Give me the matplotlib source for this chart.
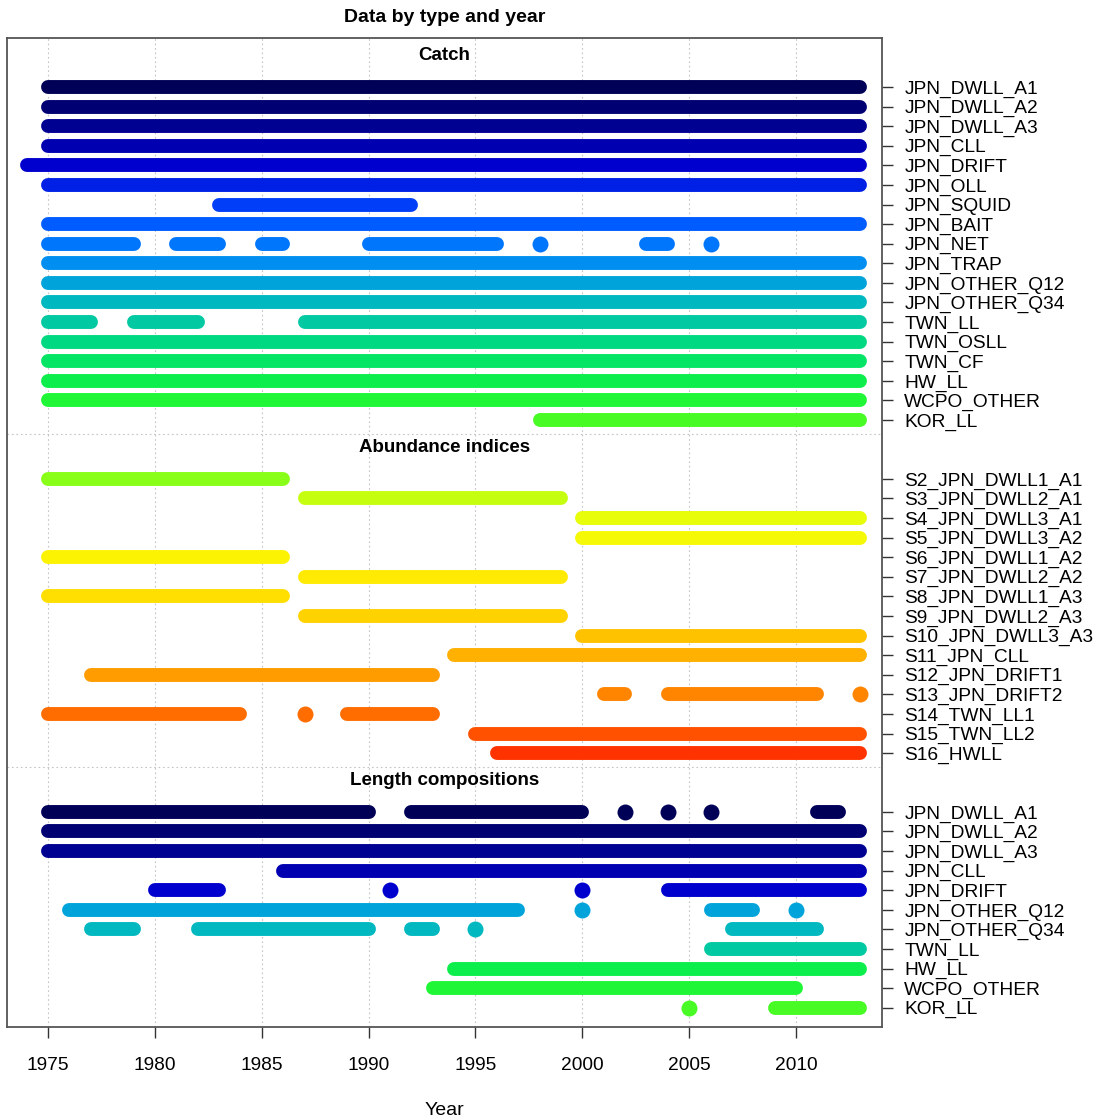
import numpy as np
import matplotlib
matplotlib.use("Agg")
import matplotlib.pyplot as plt

plt.rcParams["font.family"] = ["Liberation Sans", "DejaVu Sans"]

# fleets in model order
fleet_names = ["JPN_DWLL_A1", "JPN_DWLL_A2", "JPN_DWLL_A3", "JPN_CLL", "JPN_DRIFT",
               "JPN_OLL", "JPN_SQUID", "JPN_BAIT", "JPN_NET", "JPN_TRAP",
               "JPN_OTHER_Q12", "JPN_OTHER_Q34", "TWN_LL", "TWN_OSLL", "TWN_CF",
               "HW_LL", "WCPO_OTHER", "KOR_LL",
               "S2_JPN_DWLL1_A1", "S3_JPN_DWLL2_A1", "S4_JPN_DWLL3_A1",
               "S5_JPN_DWLL3_A2", "S6_JPN_DWLL1_A2", "S7_JPN_DWLL2_A2", "S8_JPN_DWLL1_A3",
               "S9_JPN_DWLL2_A3", "S10_JPN_DWLL3_A3", "S11_JPN_CLL", "S12_JPN_DRIFT1",
               "S13_JPN_DRIFT2", "S14_TWN_LL1", "S15_TWN_LL2", "S16_HWLL"]

# (fleet, [(first year, last year), ...]) -- single years drawn as points
catch = [
    ("JPN_DWLL_A1", [(1975, 2013)]),
    ("JPN_DWLL_A2", [(1975, 2013)]),
    ("JPN_DWLL_A3", [(1975, 2013)]),
    ("JPN_CLL", [(1975, 2013)]),
    ("JPN_DRIFT", [(1974, 2013)]),
    ("JPN_OLL", [(1975, 2013)]),
    ("JPN_SQUID", [(1983, 1992)]),
    ("JPN_BAIT", [(1975, 2013)]),
    ("JPN_NET", [(1975, 1979), (1981, 1983), (1985, 1986), (1990, 1996), (1998, 1998),
                 (2003, 2004), (2006, 2006)]),
    ("JPN_TRAP", [(1975, 2013)]),
    ("JPN_OTHER_Q12", [(1975, 2013)]),
    ("JPN_OTHER_Q34", [(1975, 2013)]),
    ("TWN_LL", [(1975, 1977), (1979, 1982), (1987, 2013)]),
    ("TWN_OSLL", [(1975, 2013)]),
    ("TWN_CF", [(1975, 2013)]),
    ("HW_LL", [(1975, 2013)]),
    ("WCPO_OTHER", [(1975, 2013)]),
    ("KOR_LL", [(1998, 2013)]),
]

indices = [
    ("S2_JPN_DWLL1_A1", [(1975, 1986)]),
    ("S3_JPN_DWLL2_A1", [(1987, 1999)]),
    ("S4_JPN_DWLL3_A1", [(2000, 2013)]),
    ("S5_JPN_DWLL3_A2", [(2000, 2013)]),
    ("S6_JPN_DWLL1_A2", [(1975, 1986)]),
    ("S7_JPN_DWLL2_A2", [(1987, 1999)]),
    ("S8_JPN_DWLL1_A3", [(1975, 1986)]),
    ("S9_JPN_DWLL2_A3", [(1987, 1999)]),
    ("S10_JPN_DWLL3_A3", [(2000, 2013)]),
    ("S11_JPN_CLL", [(1994, 2013)]),
    ("S12_JPN_DRIFT1", [(1977, 1993)]),
    ("S13_JPN_DRIFT2", [(2001, 2002), (2004, 2011), (2013, 2013)]),
    ("S14_TWN_LL1", [(1975, 1984), (1987, 1987), (1989, 1993)]),
    ("S15_TWN_LL2", [(1995, 2013)]),
    ("S16_HWLL", [(1996, 2013)]),
]

lencomp = [
    ("JPN_DWLL_A1", [(1975, 1990), (1992, 2000), (2002, 2002), (2004, 2004), (2006, 2006),
                     (2011, 2012)]),
    ("JPN_DWLL_A2", [(1975, 2013)]),
    ("JPN_DWLL_A3", [(1975, 2013)]),
    ("JPN_CLL", [(1986, 2013)]),
    ("JPN_DRIFT", [(1980, 1983), (1991, 1991), (2000, 2000), (2004, 2013)]),
    ("JPN_OTHER_Q12", [(1976, 1997), (2000, 2000), (2006, 2008), (2010, 2010)]),
    ("JPN_OTHER_Q34", [(1977, 1979), (1982, 1990), (1992, 1993), (1995, 1995), (2007, 2011)]),
    ("TWN_LL", [(2006, 2013)]),
    ("HW_LL", [(1994, 2013)]),
    ("WCPO_OTHER", [(1993, 2010)]),
    ("KOR_LL", [(2005, 2005), (2009, 2013)]),
]

groups = [("Catch", catch), ("Abundance indices", indices), ("Length compositions", lencomp)]


def rich_colors(n):
    # gplots "temperature" palette
    x = np.linspace(0, 1, n)
    r = 1 / (1 + np.exp(20 - 35 * x))
    g = np.clip(-0.8 + 6 * x - 5 * x ** 2, 0, 1)
    b = np.exp(-0.5 * ((x - 0.25) / 0.15) ** 2)
    return np.c_[r, g, b / b.max()]


# drop the first (almost black) colour
cols = dict(zip(fleet_names, rich_colors(len(fleet_names) + 1)[1:]))

fig = plt.figure(figsize=(10.97, 11.2), dpi=100)
ax = fig.add_axes([7 / 1097, 1 - 1027 / 1120, 875 / 1097, 989 / 1120])
xlim = (1973.08, 2014.02)

ticks, labels, row = [], [], 0
for gi, (title, rows) in enumerate(groups):
    ax.text(np.mean(xlim), row - 1.6, title, ha="center", va="center",
            fontsize=13.5, fontweight="bold")
    for name, spans in rows:
        c = cols[name]
        for a, b in spans:
            if a == b:
                ax.plot(a, row, "o", ms=11.5, color=c, mec="none", zorder=3)
            else:
                ax.plot([a, b], [row, row], lw=10, color=c, solid_capstyle="round", zorder=3)
        ticks.append(row)
        labels.append(name)
        row += 1
    if gi < len(groups) - 1:
        ax.axhline(row - 1 + 0.72, color="#c4c4c4", lw=0.8, ls=(0, (1.5, 2.5)), zorder=1)
    row += 2

for yr in range(1975, 2011, 5):
    ax.axvline(yr, color="#c4c4c4", lw=0.8, ls=(0, (1.5, 2.5)), zorder=1)

ax.set_xlim(*xlim)
ax.set_ylim(47.98, -2.5)
ax.set_xticks(range(1975, 2011, 5))
ax.yaxis.tick_right()
ax.set_yticks(ticks)
ax.set_yticklabels(labels)
ax.tick_params(axis="x", direction="out", length=8, width=1, pad=13.5, labelsize=13.8, color="#333333")
ax.tick_params(axis="y", direction="out", length=8, width=1, pad=8, labelsize=13.8, color="#333333")
for s in ax.spines.values():
    s.set_color("#555555")
    s.set_linewidth(1.3)
ax.set_xlabel("Year", fontsize=14, labelpad=20)

fig.text(445 / 1097, 1 - 17 / 1120, "Data by type and year", ha="center", va="center",
         fontsize=14, fontweight="bold")

fig.savefig("out.png", dpi=100)
